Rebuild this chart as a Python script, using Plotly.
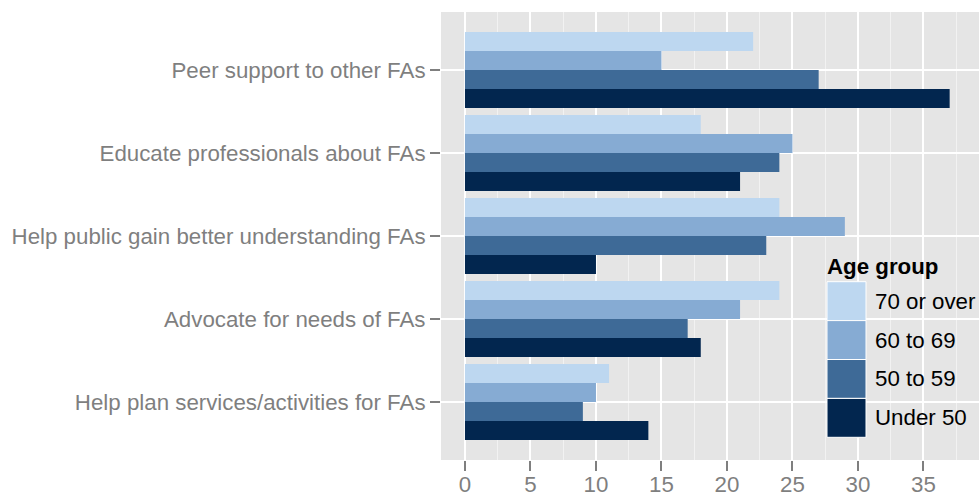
import plotly.graph_objects as go

# Survey responses by activity and age group
activities = [
    "Help plan services/activities for FAs",
    "Advocate for needs of FAs",
    "Help public gain better understanding FAs",
    "Educate professionals about FAs",
    "Peer support to other FAs",
]
age_groups = ["Under 50", "50 to 59", "60 to 69", "70 or over"]
under_50 = [14, 18, 10, 21, 37]
age_50_59 = [9, 17, 23, 24, 27]
age_60_69 = [10, 21, 29, 25, 15]
age_70_over = [11, 24, 24, 18, 22]
x_ticks = [0, 5, 10, 15, 20, 25, 30, 35]

series = [under_50, age_50_59, age_60_69, age_70_over]
colors = ["#02264F", "#3E6A97", "#86ABD3", "#BDD7F0"]

FONT = "Liberation Sans, Arial, sans-serif"
FS = 22.3
W, H = 979, 497
L, R, T, B = 441, 0, 12, 37
plot_w = W - L - R
plot_h = H - T - B

bar_w = 0.915 / 4

fig = go.Figure()
for k, (name, vals, col) in enumerate(zip(age_groups, series, colors)):
    fig.add_trace(go.Bar(
        y=activities,
        x=vals,
        name=name,
        orientation="h",
        width=bar_w,
        offset=-2 * bar_w + k * bar_w,
        marker=dict(color=col, line=dict(width=0)),
        showlegend=False,
    ))

fig.update_layout(
    width=W,
    height=H,
    margin=dict(l=L, r=R, t=T, b=B, pad=0, autoexpand=False),
    paper_bgcolor="white",
    plot_bgcolor="#E5E5E5",
    barmode="overlay",
    font=dict(family=FONT, size=FS, color="#7F7F7F"),
)

fig.update_xaxes(
    automargin=False,
    range=[-1.83, 39.24],
    tickvals=x_ticks,
    ticktext=[str(v) for v in x_ticks],
    showgrid=True,
    gridcolor="white",
    gridwidth=2,
    zeroline=False,
    showline=False,
    ticks="outside",
    ticklen=10,
    tickwidth=2,
    tickcolor="#7F7F7F",
    ticklabelstandoff=-6,
    tickfont=dict(family=FONT, size=FS, color="#7F7F7F"),
    minor=dict(dtick=2.5, tick0=0, showgrid=True, gridcolor="#F2F2F2",
               gridwidth=1, ticks=""),
)
fig.update_yaxes(
    automargin=False,
    type="category",
    categoryorder="array",
    categoryarray=activities,
    range=[-0.7, 4.7],
    showgrid=True,
    gridcolor="white",
    gridwidth=2,
    zeroline=False,
    showline=False,
    ticks="outside",
    ticklen=10,
    tickwidth=2,
    tickcolor="#7F7F7F",
    tickfont=dict(family=FONT, size=FS, color="#7F7F7F"),
)


# Legend drawn inside the panel, ggplot style
def px_x(p):
    return (p - L) / plot_w


def px_y(p):
    return (H - B - p) / plot_h


key_left, key_right = 827, 866
key_top, key_h = 281.7, 38.9
legend_order = list(reversed(list(zip(age_groups, colors))))
for i, (name, col) in enumerate(legend_order):
    y0 = key_top + i * key_h
    fig.add_shape(
        type="rect", xref="paper", yref="paper", layer="above",
        x0=px_x(key_left), x1=px_x(key_right),
        y0=px_y(y0 + key_h), y1=px_y(y0),
        fillcolor=col, line=dict(color="white", width=1),
    )
    fig.add_annotation(
        xref="paper", yref="paper",
        x=px_x(873), y=px_y(y0 + key_h / 2),
        xanchor="left", yanchor="middle",
        text=name, showarrow=False,
        font=dict(family=FONT, size=FS, color="black"),
    )
fig.add_annotation(
    xref="paper", yref="paper",
    x=px_x(825), y=px_y(266),
    xanchor="left", yanchor="middle",
    text="<b>Age group</b>", showarrow=False,
    font=dict(family=FONT, size=FS, color="black"),
)

fig.write_html("out.html")
